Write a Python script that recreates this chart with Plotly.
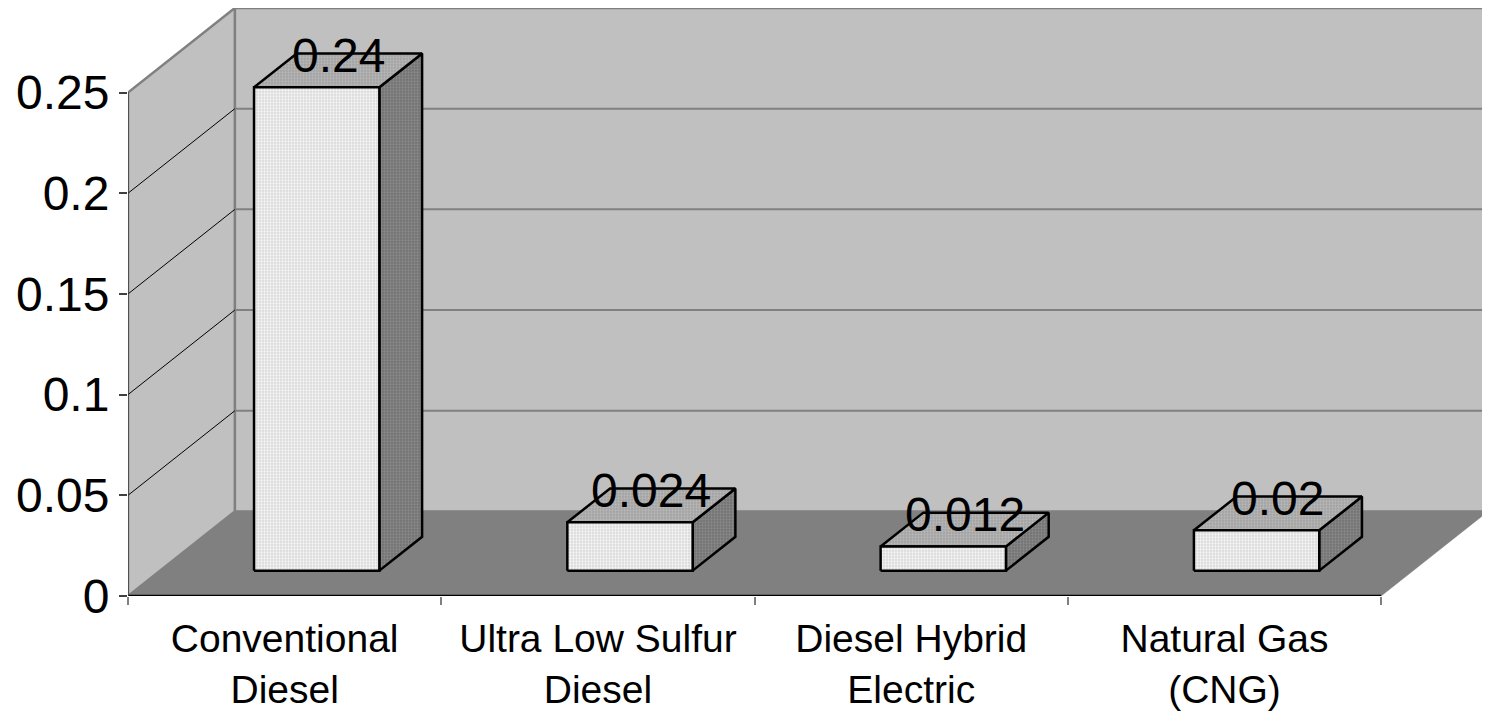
import plotly.graph_objects as go

categories = ["Conventional<br>Diesel", "Ultra Low Sulfur<br>Diesel",
              "Diesel Hybrid<br>Electric", "Natural Gas<br>(CNG)"]
values = [0.24, 0.024, 0.012, 0.02]
value_labels = ["0.24", "0.024", "0.012", "0.02"]
y_ticks = [0, 0.05, 0.1, 0.15, 0.2, 0.25]
y_ticktext = ["0", "0.05", "0.1", "0.15", "0.2", "0.25"]

# oblique "3D" depth offset in data units
DX = 0.341
DY = 0.042
YMAX = 0.25
N = len(categories)
XL, XR = -0.5, N - 0.5
BW = 0.4          # bar width (category units)
Z0, Z1 = 0.3, 0.7  # bar depth extent (fraction of total depth)

FONT = "Liberation Sans, Arial, sans-serif"
fig = go.Figure()


def poly(xs, ys, fill, line_color, line_width, dots=None):
    kw = {}
    if dots is not None:
        kw["fillpattern"] = dict(shape=".", bgcolor=fill, fgcolor=dots,
                                 size=3, solidity=0.45, fillmode="replace")
    fig.add_trace(go.Scatter(
        x=list(xs) + [xs[0]], y=list(ys) + [ys[0]], mode="lines",
        fill="toself", fillcolor=fill,
        line=dict(color=line_color, width=line_width),
        hoverinfo="skip", showlegend=False, **kw))


def line(xs, ys, color, width):
    fig.add_trace(go.Scatter(x=xs, y=ys, mode="lines",
                             line=dict(color=color, width=width),
                             hoverinfo="skip", showlegend=False))


# back wall
poly([XL + DX, XR + DX, XR + DX, XL + DX], [DY, DY, YMAX + DY, YMAX + DY],
     "#C0C0C0", "#808080", 2.5)
# side wall
poly([XL, XL + DX, XL + DX, XL], [0, DY, YMAX + DY, YMAX],
     "#C0C0C0", "#808080", 2.5)
# floor
poly([XL, XR, XR + DX, XL + DX], [0, 0, DY, DY], "#808080", "#808080", 0.5)

# gridlines
for t in y_ticks[1:-1]:
    line([XL + DX, XR + DX], [t + DY, t + DY], "#808080", 2)
    line([XL, XL + DX], [t, t + DY], "#000000", 1)

# front floor edge and vertical axis line
line([XL, XR], [0, 0], "#000000", 2.5)
line([XL, XL], [0, YMAX], "#404040", 1.5)

# bars
for i, v in enumerate(values):
    x0 = i - BW / 2 + Z0 * DX
    x1 = i + BW / 2 + Z0 * DX
    y0 = Z0 * DY
    y1 = v + Z0 * DY
    ddx = (Z1 - Z0) * DX
    ddy = (Z1 - Z0) * DY
    # side face
    poly([x1, x1 + ddx, x1 + ddx, x1], [y0, y0 + ddy, y1 + ddy, y1],
         "#727272", "#000000", 2.5, dots="#8A8A8A")
    # top face
    poly([x0, x1, x1 + ddx, x0 + ddx], [y1, y1, y1 + ddy, y1 + ddy],
         "#A2A2A2", "#000000", 2.5, dots="#B8B8B8")
    # front face
    poly([x0, x1, x1, x0], [y0, y0, y1, y1], "#DADADA", "#000000", 2.5,
         dots="#F6F6F6")
    fig.add_annotation(x=i + 0.5 * DX, y=v + 0.68 * DY, text=value_labels[i],
                       showarrow=False, xanchor="center", yanchor="middle",
                       font=dict(family=FONT, size=48, color="#000000"))

fig.update_layout(
    width=1482, height=704,
    margin=dict(l=120, r=2, t=0, b=116),
    paper_bgcolor="white", plot_bgcolor="white",
    showlegend=False,
    font=dict(family=FONT, color="#000000"),
    xaxis=dict(range=[XL, XR + DX], showgrid=False, zeroline=False,
               showline=False, tickvals=list(range(N)), ticktext=categories,
               ticks="", tickfont=dict(size=39, family=FONT),
               ticklabelstandoff=16,
               minor=dict(tickvals=[k - 0.5 for k in range(N + 1)],
                          ticks="outside", ticklen=8, tickcolor="#808080",
                          tickwidth=1.5, showgrid=False),
               fixedrange=True),
    yaxis=dict(range=[0, YMAX + DY], showgrid=False, zeroline=False,
               showline=False, tickvals=y_ticks, ticktext=y_ticktext,
               ticks="outside", ticklen=8, tickcolor="#404040", tickwidth=1.5,
               tickfont=dict(size=48, family=FONT), ticklabelstandoff=0,
               fixedrange=True),
)

fig.write_html("out.html")
